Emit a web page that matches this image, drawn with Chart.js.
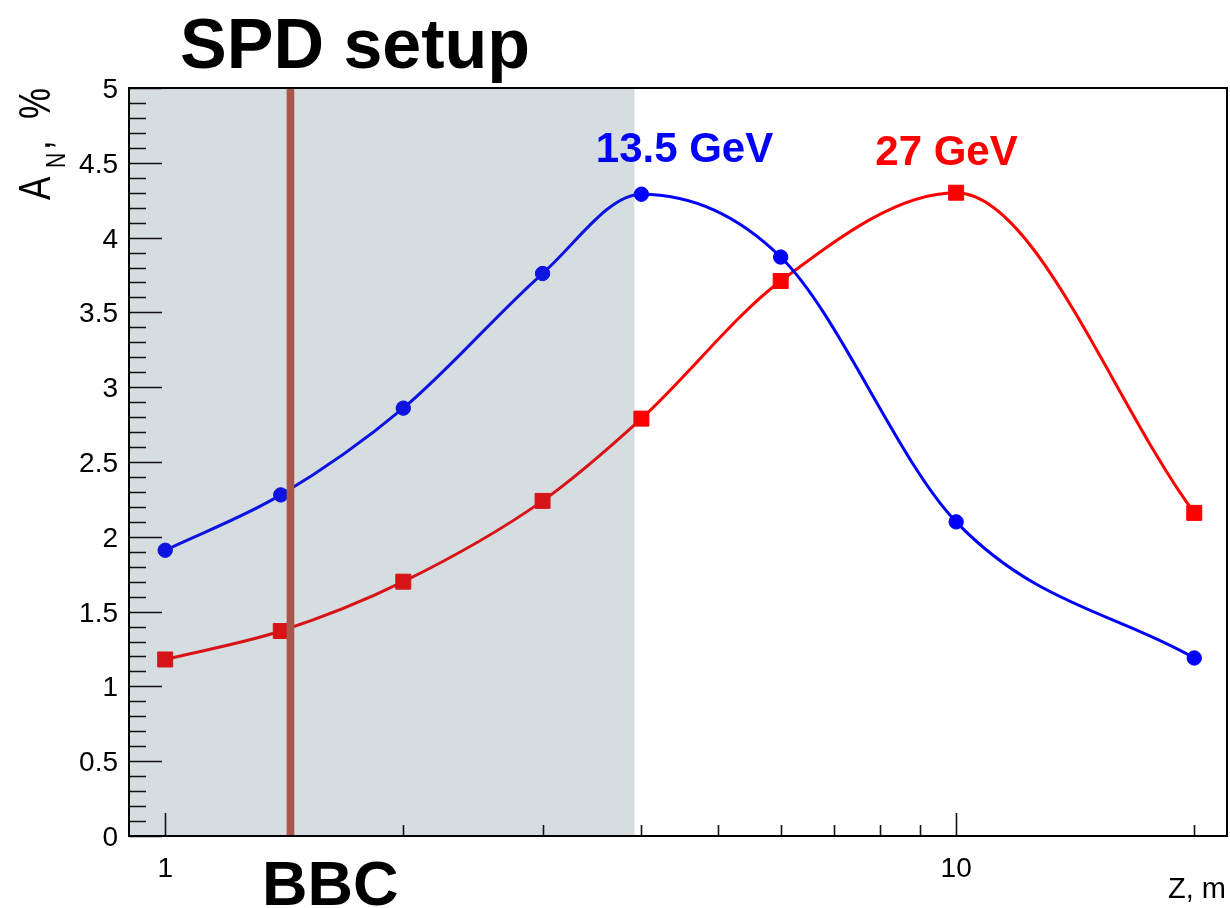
<!DOCTYPE html>
<html>
<head>
<meta charset="utf-8">
<script src="https://cdn.jsdelivr.net/npm/chart.js@4.4.1/dist/chart.umd.min.js"></script>
<style>
  html, body { margin: 0; padding: 0; background: #ffffff; overflow: hidden; }
  canvas { display: block; }
</style>
</head>
<body>
<canvas id="c" width="1230" height="908" style="width:1230px;height:908px"></canvas>
<script>
// ---- data ----
const zValues = [1, 1.4, 2, 3, 4, 6, 10, 20];          // Z, m
const an135 = [1.91, 2.28, 2.86, 3.76, 4.29, 3.87, 2.10, 1.19]; // 13.5 GeV, %
const an27  = [1.18, 1.37, 1.70, 2.24, 2.79, 3.71, 4.30, 2.16]; // 27 GeV, %
const yTickValues = [0, 0.5, 1, 1.5, 2, 2.5, 3, 3.5, 4, 4.5, 5];
const yTickLabels = ['0', '0.5', '1', '1.5', '2', '2.5', '3', '3.5', '4', '4.5', '5'];
const xMajorTicks = [1, 10];
const xMajorLabels = ['1', '10'];
const xMinorTicks = [2, 3, 4, 5, 6, 7, 8, 9, 20];
const spdEnd = 3.92;   // end of SPD setup shaded region (m)
const bbcZ = 1.44;     // BBC position (m)

const FONT = '"Liberation Sans", Arial, Helvetica, sans-serif';

const decor = {
  id: 'decor',
  afterDatasetsDraw(chart) {
    const { ctx, chartArea: a, scales: { x, y } } = chart;
    ctx.save();
    // shaded SPD region (over the curves)
    const xr = x.getPixelForValue(spdEnd);
    ctx.fillStyle = 'rgba(60,95,110,0.21)';
    ctx.fillRect(a.left, a.top, xr - a.left, a.bottom - a.top);
    // BBC line
    const xb = x.getPixelForValue(bbcZ);
    ctx.fillStyle = '#a8574a';
    ctx.fillRect(xb - 3.8, a.top, 7.6, a.bottom - a.top);

    // ticks
    ctx.strokeStyle = '#111';
    ctx.lineWidth = 1.6;
    ctx.beginPath();
    for (let i = 0; i <= 50; i++) {
      const v = i / 10;
      const py = Math.round(y.getPixelForValue(v)) + 0.5;
      const len = (i % 5 === 0) ? 33 : 17;
      ctx.moveTo(a.left, py); ctx.lineTo(a.left + len, py);
    }
    xMajorTicks.forEach(v => {
      const px = Math.round(x.getPixelForValue(v)) + 0.5;
      ctx.moveTo(px, a.bottom); ctx.lineTo(px, a.bottom - 23);
    });
    xMinorTicks.forEach(v => {
      const px = Math.round(x.getPixelForValue(v)) + 0.5;
      ctx.moveTo(px, a.bottom); ctx.lineTo(px, a.bottom - 11);
    });
    ctx.stroke();

    // frame
    ctx.lineWidth = 2;
    ctx.strokeStyle = '#000';
    ctx.strokeRect(a.left, a.top, a.right - a.left, a.bottom - a.top);

    // tick labels
    ctx.fillStyle = '#000';
    ctx.font = '28px ' + FONT;
    ctx.textAlign = 'right';
    ctx.textBaseline = 'alphabetic';
    yTickValues.forEach((v, i) => {
      ctx.fillText(yTickLabels[i], a.left - 11, y.getPixelForValue(v) + 10);
    });
    ctx.textAlign = 'center';
    xMajorTicks.forEach((v, i) => {
      ctx.fillText(xMajorLabels[i], x.getPixelForValue(v), 877);
    });

    // x title
    ctx.font = '29px ' + FONT;
    ctx.textAlign = 'right';
    ctx.fillText('Z, m', 1226, 898);

    // y title (rotated, with subscript)
    ctx.save();
    ctx.translate(50, 200);
    ctx.rotate(-Math.PI / 2);
    ctx.scale(1, 1.28);
    ctx.textAlign = 'left';
    ctx.font = '35px ' + FONT;
    ctx.fillText('A', 0, 0);
    ctx.font = '21px ' + FONT;
    ctx.fillText('N', 32, 15 / 1.28);
    ctx.font = '35px ' + FONT;
    ctx.fillText(',', 50, 0);
    ctx.fillText('%', 81, 0);
    ctx.restore();

    // annotations
    ctx.textAlign = 'left';
    ctx.font = 'bold 70px ' + FONT;
    ctx.fillStyle = '#000';
    ctx.fillText('SPD setup', 180, 68);
    ctx.font = 'bold 63px ' + FONT;
    ctx.fillText('BBC', 262, 905);

    ctx.textAlign = 'center';
    ctx.font = 'bold 42px ' + FONT;
    ctx.fillStyle = '#0000ff';
    ctx.fillText('13.5 GeV', 684.5, 162);
    ctx.fillStyle = '#ff0000';
    ctx.fillText('27 GeV', 946.5, 165);
    ctx.restore();
  }
};

new Chart(document.getElementById('c'), {
  type: 'line',
  data: {
    datasets: [
      {
        label: '13.5 GeV',
        data: zValues.map((z, i) => ({ x: z, y: an135[i] })),
        borderColor: '#0000ff',
        backgroundColor: '#0000ff',
        borderWidth: 3,
        cubicInterpolationMode: 'monotone',
        pointStyle: 'circle',
        pointRadius: 7.2,
        pointBorderWidth: 1,
        pointBorderColor: '#0000ff',
        pointBackgroundColor: '#0000ff',
        fill: false
      },
      {
        label: '27 GeV',
        data: zValues.map((z, i) => ({ x: z, y: an27[i] })),
        borderColor: '#ff0000',
        backgroundColor: '#ff0000',
        borderWidth: 3,
        cubicInterpolationMode: 'monotone',
        pointStyle: 'rect',
        pointRadius: 10.6,
        pointBorderWidth: 1,
        pointBorderColor: '#ff0000',
        pointBackgroundColor: '#ff0000',
        fill: false
      }
    ]
  },
  options: {
    responsive: false,
    animation: false,
    devicePixelRatio: 1,
    layout: { autoPadding: false, padding: { left: 129, top: 88, right: 3, bottom: 72 } },
    plugins: { legend: { display: false }, tooltip: { enabled: false } },
    scales: {
      x: { type: 'logarithmic', min: 0.9, max: 22, display: false },
      y: { type: 'linear', min: 0, max: 5, display: false }
    }
  },
  plugins: [decor]
});
</script>
</body>
</html>
